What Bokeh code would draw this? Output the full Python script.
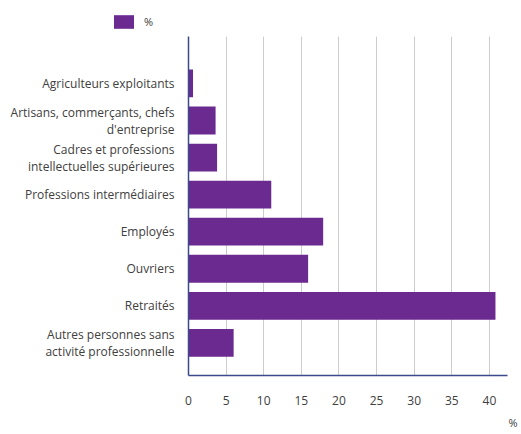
from bokeh.plotting import figure
from bokeh.models import Range1d, FixedTicker, Legend, LegendItem, Title, ColumnDataSource
from bokeh.layouts import column
from bokeh.embed import file_html
from bokeh.resources import INLINE

categories = [
    "Agriculteurs exploitants",
    "Artisans, commerçants, chefs\nd'entreprise",
    "Cadres et professions\nintellectuelles supérieures",
    "Professions intermédiaires",
    "Employés",
    "Ouvriers",
    "Retraités",
    "Autres personnes sans\nactivité professionnelle",
]
values = [0.6, 3.6, 3.8, 11.0, 17.9, 15.9, 40.8, 6.0]
x_ticks = [0, 5, 10, 15, 20, 25, 30, 35, 40]
series_name = "%"

FONT = "Open Sans"
BAR = "#6b2a8f"
AXIS = "#3b4a8a"
TXT = "#404040"

# --- legend strip on top
top = figure(width=521, height=36, output_backend="svg", toolbar_location=None,
             x_range=Range1d(0, 1), y_range=Range1d(0, 1),
             min_border_left=0, min_border_right=0, min_border_top=0, min_border_bottom=0)
top.frame_align = False
top.axis.visible = False
top.grid.visible = False
top.outline_line_color = None
dummy_src = ColumnDataSource(dict(y=[5.0], v=[5.0]))
dummy = top.hbar(y="y", right="v", left=4.0, height=0.75, source=dummy_src,
                 color=BAR, line_color=None)
legend = Legend(items=[LegendItem(label=series_name, renderers=[dummy])], location=(111, 6),
                orientation="horizontal", glyph_width=25, glyph_height=17,
                label_text_font=FONT, label_text_font_size="11px", label_text_color=TXT,
                background_fill_alpha=0, border_line_color=None, padding=0, margin=0,
                label_standoff=8)
top.add_layout(legend, "center")

# --- main chart
pos = list(range(len(categories)))
src = ColumnDataSource(dict(y=pos, v=values))

p = figure(width=521, height=398, output_backend="svg", toolbar_location=None,
           x_range=Range1d(0, 42.4), y_range=Range1d(7.88, -1.267),
           min_border_left=188, min_border_right=14, min_border_top=0, min_border_bottom=57)
p.frame_align = False
p.outline_line_color = None

p.hbar(y="y", right="v", left=0, height=0.75, source=src, color=BAR, line_color=None)

p.xaxis.ticker = FixedTicker(ticks=x_ticks)
p.yaxis.ticker = FixedTicker(ticks=pos)
p.yaxis.major_label_overrides = {i: c for i, c in enumerate(categories)}

for ax in (p.xaxis[0], p.yaxis[0]):
    ax.axis_line_color = AXIS
    ax.axis_line_width = 1.5
    ax.major_tick_line_color = None
    ax.minor_tick_line_color = None
    ax.major_label_text_font = FONT
    ax.major_label_text_font_size = "12px"
    ax.major_label_text_color = TXT
p.yaxis.major_label_text_line_height = 1.0
p.xaxis.major_label_standoff = 14
p.yaxis.major_label_standoff = 8

p.ygrid.grid_line_color = None
p.xgrid.grid_line_color = "#cccccc"
p.xgrid.grid_line_width = 1

unit = Title(text="%", align="right", offset=-10, text_font=FONT, text_font_size="11px",
             text_font_style="normal", text_color=TXT, standoff=10)
p.add_layout(unit, "below")

layout = column(top, p, spacing=0)
open("out.html", "w").write(file_html(layout, INLINE))
